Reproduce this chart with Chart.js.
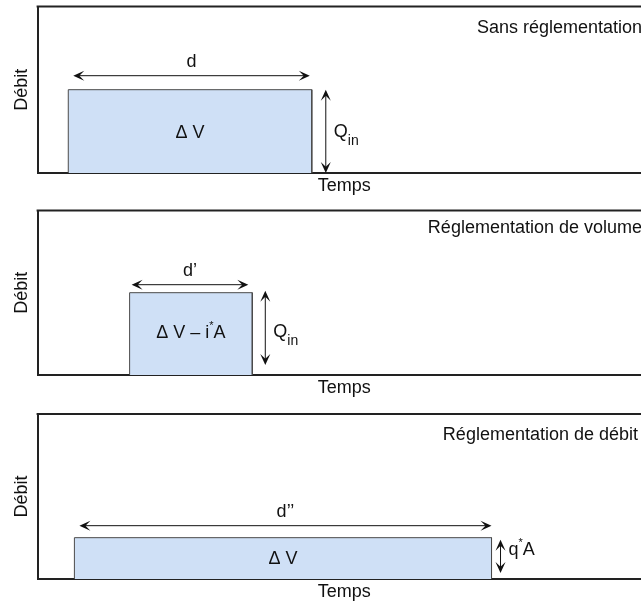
<!DOCTYPE html>
<html lang="fr">
<head>
<meta charset="utf-8">
<title>Réglementation du débit</title>
<script src="https://cdn.jsdelivr.net/npm/chart.js@4.4.1/dist/chart.umd.min.js"></script>
<style>
  html, body { margin: 0; padding: 0; background: #fff; overflow: hidden; }
  #page { position: relative; width: 641px; height: 603px; overflow: hidden; }
  .panel { position: absolute; left: 0; width: 651px; }
</style>
</head>
<body>
<div id="page">
  <div class="panel" style="top:0;height:200px"><canvas id="chart0"></canvas></div>
  <div class="panel" style="top:200px;height:200px"><canvas id="chart1"></canvas></div>
  <div class="panel" style="top:400px;height:203px"><canvas id="chart2"></canvas></div>
</div>
<script>
// values (time and flow as % of each axis)
const panelTitles = ['Sans réglementation', 'Réglementation de volume', 'Réglementation de débit'];
const pulseStart = [5, 15, 6];
const pulseEnd = [44.7, 35, 74];
const pulseFlow = [50, 50, 25];
const durationLabels = ['d', 'd’', 'd’’'];
const volumeLabels = ['Δ V', 'Δ V – i^{*}A', 'Δ V'];
const flowLabels = ['Q_{in}', 'Q_{in}', 'q^{*}A'];
const timeRange = [0, 100];
const flowRange = [0, 100];

const FONT = '"Liberation Sans", Arial, sans-serif';
Chart.defaults.font.family = FONT;
Chart.defaults.font.size = 18;
Chart.defaults.color = '#111';

// per-panel placement of the frame and the annotations (pixels)
const frames = [
  { padTop: 6.5, padBottom: 3.5, titleRight: 642, titleDy: 22, arrowGap: 14, arrowInset: [5, 2], sideGap: 14, sideTop: 0, sideBottom: 0, flowDy: 1, volumeDy: 2 },
  { padTop: 10.5, padBottom: 1.5, titleRight: 642, titleDy: 18, arrowGap: 8, arrowInset: [2, 4], sideGap: 13, sideTop: -2, sideBottom: 10, flowDy: 4, volumeDy: -1 },
  { padTop: 14, padBottom: 0.5, titleRight: 638, titleDy: 21, arrowGap: 12, arrowInset: [5, 0], sideGap: 9, sideTop: 2, sideBottom: 6, flowDy: -6, volumeDy: 1 }
];

function parseRich(label) {
  const parts = [];
  const re = /([_^])\{([^}]*)\}/g;
  let last = 0, m;
  while ((m = re.exec(label))) {
    if (m.index > last) parts.push({ text: label.slice(last, m.index), kind: 'base' });
    parts.push({ text: m[2], kind: m[1] === '_' ? 'sub' : 'sup' });
    last = re.lastIndex;
  }
  if (last < label.length) parts.push({ text: label.slice(last), kind: 'base' });
  return parts;
}

function drawRich(ctx, label, x, y, align) {
  const parts = parseRich(label).map(p => {
    const size = p.kind === 'base' ? 18 : (p.kind === 'sub' ? 14 : 11);
    const dy = p.kind === 'sub' ? 9 : (p.kind === 'sup' ? -7 : 0);
    ctx.font = size + 'px ' + FONT;
    return { text: p.text, size: size, dy: dy, w: ctx.measureText(p.text).width };
  });
  const total = parts.reduce((s, p) => s + p.w, 0);
  let cx = align === 'center' ? x - total / 2 : (align === 'right' ? x - total : x);
  ctx.textAlign = 'left';
  ctx.textBaseline = 'middle';
  parts.forEach(p => {
    ctx.font = p.size + 'px ' + FONT;
    ctx.fillText(p.text, cx, y + p.dy);
    cx += p.w;
  });
}

function arrowHead(ctx, x, y, angle) {
  const len = 11, half = 5;
  ctx.save();
  ctx.translate(x, y);
  ctx.rotate(angle);
  ctx.beginPath();
  ctx.moveTo(0, 0);
  ctx.lineTo(-len, -half);
  ctx.lineTo(-len * 0.55, 0);
  ctx.lineTo(-len, half);
  ctx.closePath();
  ctx.fill();
  ctx.restore();
}

function doubleArrow(ctx, x1, y1, x2, y2) {
  const a = Math.atan2(y2 - y1, x2 - x1);
  ctx.beginPath();
  ctx.moveTo(x1 + Math.cos(a) * 5, y1 + Math.sin(a) * 5);
  ctx.lineTo(x2 - Math.cos(a) * 5, y2 - Math.sin(a) * 5);
  ctx.stroke();
  arrowHead(ctx, x2, y2, a);
  arrowHead(ctx, x1, y1, a + Math.PI);
}

// frame top line, titles, dimension arrows and labels
const pulseNotes = {
  id: 'pulseNotes',
  afterDatasetsDraw(chart, args, opts) {
    const i = opts.panel;
    const f = frames[i];
    const { ctx, chartArea } = chart;
    const xs = chart.scales.x, ys = chart.scales.y;
    const x0 = xs.getPixelForValue(pulseStart[i]);
    const x1 = xs.getPixelForValue(pulseEnd[i]);
    const yTop = ys.getPixelForValue(pulseFlow[i]);
    const yBase = ys.getPixelForValue(0);

    ctx.save();
    ctx.strokeStyle = '#222';
    ctx.lineWidth = 2;
    ctx.beginPath();
    ctx.moveTo(chartArea.left - 1, chartArea.top);
    ctx.lineTo(chartArea.right + 2, chartArea.top);
    ctx.stroke();

    ctx.fillStyle = '#111';
    ctx.font = '18px ' + FONT;
    ctx.textAlign = 'right';
    ctx.textBaseline = 'middle';
    ctx.fillText(panelTitles[i], f.titleRight, chartArea.top + f.titleDy);

    ctx.strokeStyle = '#111';
    ctx.lineWidth = 1;
    const ay = yTop - f.arrowGap;
    doubleArrow(ctx, x0 + f.arrowInset[0], ay, x1 - f.arrowInset[1], ay);
    ctx.fillStyle = '#111';
    drawRich(ctx, durationLabels[i], (x0 + f.arrowInset[0] + x1 - f.arrowInset[1]) / 2, ay - 14, 'center');

    const sx = x1 + f.sideGap;
    const sTop = yTop + f.sideTop, sBot = yBase - f.sideBottom;
    doubleArrow(ctx, sx, sBot, sx, sTop);
    drawRich(ctx, flowLabels[i], sx + 8, (sTop + sBot) / 2 + f.flowDy, 'left');

    drawRich(ctx, volumeLabels[i], (x0 + x1) / 2, (yTop + yBase) / 2 + f.volumeDy, 'center');
    ctx.restore();
  }
};

function makePanel(i) {
  const f = frames[i];
  return new Chart(document.getElementById('chart' + i), {
    type: 'line',
    data: {
      datasets: [{
        label: volumeLabels[i],
        data: [
          { x: pulseStart[i], y: 0 },
          { x: pulseStart[i], y: pulseFlow[i] },
          { x: pulseEnd[i], y: pulseFlow[i] },
          { x: pulseEnd[i], y: 0 }
        ],
        borderColor: '#4a4a4a',
        borderWidth: 1,
        backgroundColor: '#cfe0f6',
        fill: 'origin',
        tension: 0,
        pointRadius: 0
      }]
    },
    options: {
      responsive: true,
      maintainAspectRatio: false,
      animation: false,
      events: [],
      layout: { padding: { top: f.padTop, bottom: f.padBottom, left: 7, right: 0 } },
      plugins: {
        legend: { display: false },
        tooltip: { enabled: false },
        pulseNotes: { panel: i }
      },
      scales: {
        x: {
          type: 'linear',
          min: timeRange[0],
          max: timeRange[1],
          grid: { display: false, drawTicks: false },
          ticks: { display: false },
          border: { display: true, color: '#222', width: 2 },
          title: { display: true, text: 'Temps', padding: { top: 2, bottom: 0 } }
        },
        y: {
          min: flowRange[0],
          max: flowRange[1],
          grid: { display: false, drawTicks: false },
          ticks: { display: false },
          border: { display: true, color: '#222', width: 2 },
          title: { display: true, text: 'Débit', padding: { top: 4, bottom: 5 } }
        }
      }
    },
    plugins: [pulseNotes]
  });
}

panelTitles.forEach((t, i) => makePanel(i));
</script>
</body>
</html>
